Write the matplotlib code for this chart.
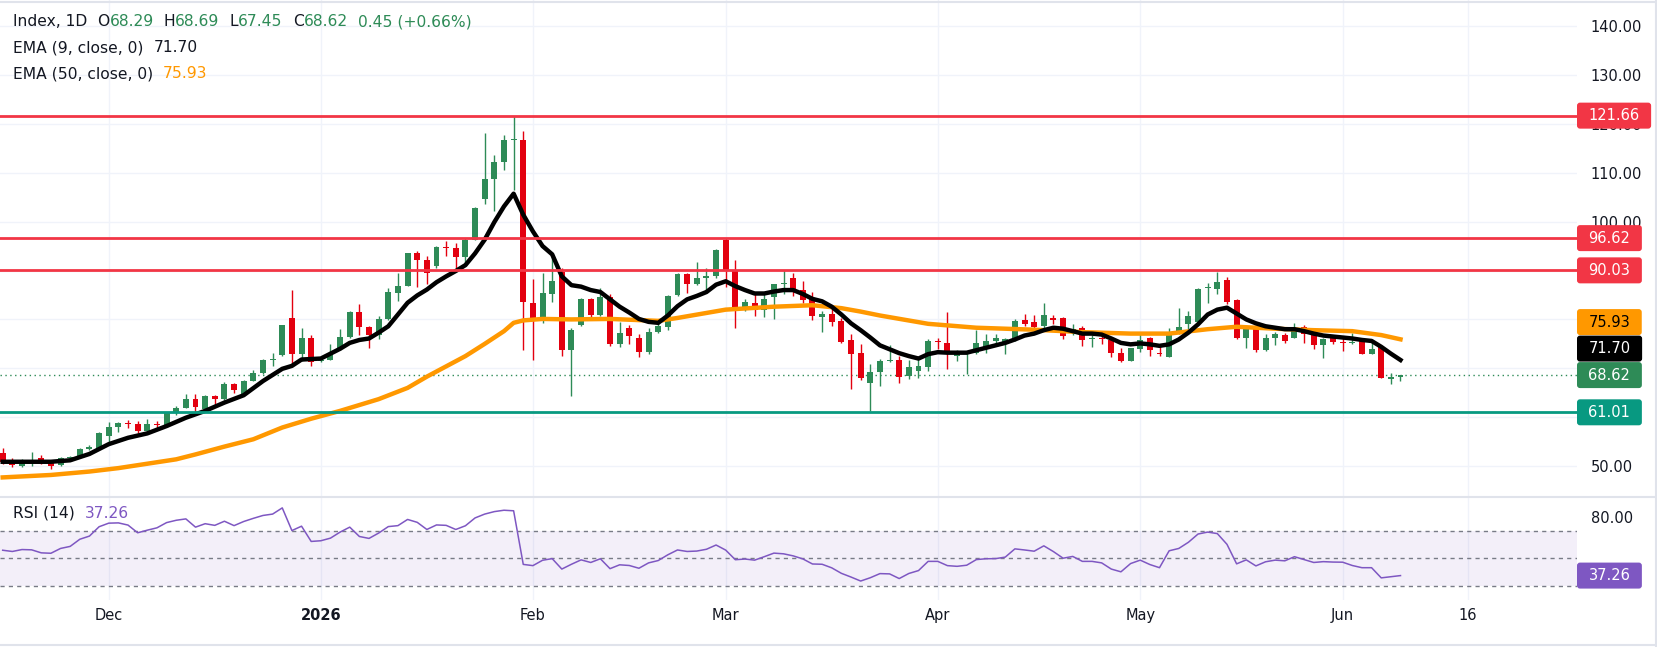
import numpy as np
import matplotlib
matplotlib.use('Agg')
import matplotlib.pyplot as plt
import matplotlib.transforms as mtransforms
from matplotlib.patches import FancyBboxPatch
from matplotlib.lines import Line2D

W, H = 1658, 647

# daily candles
opens = [52.7, 50.9, 50.1, 50.7, 51.6, 50.9, 50.2, 51.6, 51.8, 53.6,
         53.6, 56.2, 58.1, 58.8, 58.7, 57.2, 58.6, 58.1, 60.9, 61.9,
         63.8, 61.6, 64.3, 63.7, 66.7, 64.8, 67.5, 69.0, 71.8, 72.7,
         80.2, 72.9, 76.3, 71.4, 71.8, 73.9, 76.5, 81.6, 78.5, 76.9,
         80.0, 85.4, 86.9, 93.5, 92.2, 90.9, 94.9, 94.5, 92.8, 96.3,
         104.7, 108.7, 112.2, 116.6, 116.7, 83.3, 80.0, 85.2, 89.7, 73.7,
         78.8, 84.1, 81.0, 84.6, 74.9, 78.3, 76.1, 73.3, 77.5, 78.4,
         85.0, 89.2, 87.3, 88.4, 88.8, 96.3, 90.2, 82.5, 83.4, 82.0,
         84.6, 87.2, 88.5, 86.0, 84.1, 80.5, 81.2, 79.7, 75.8, 73.1,
         66.9, 69.3, 71.6, 71.8, 68.4, 69.5, 70.3, 75.6, 75.2, 72.5,
         73.2, 73.2, 74.2, 75.6, 75.1, 75.9, 79.8, 79.4, 78.6, 80.3,
         80.2, 77.4, 78.3, 75.9, 76.1, 75.7, 73.2, 71.5, 74.0, 76.1,
         73.1, 72.3, 77.4, 79.1, 79.5, 86.5, 86.3, 88.0, 83.9, 76.1,
         78.0, 73.7, 76.1, 76.9, 76.3, 78.5, 77.3, 74.8, 76.3, 75.4,
         75.1, 75.6, 73.0, 74.4, 67.9, 68.29]
highs = [53.8, 51.6, 51.4, 52.8, 52.2, 51.3, 51.8, 52.1, 53.7, 54.3,
         56.9, 59.1, 59.0, 59.5, 59.2, 59.6, 59.2, 61.1, 62.3, 64.7,
         64.8, 64.5, 64.5, 67.2, 67.1, 67.7, 69.7, 72.0, 73.1, 78.9,
         86.1, 78.3, 76.9, 72.0, 74.9, 78.1, 81.8, 83.1, 78.6, 80.8,
         86.5, 89.4, 93.6, 93.9, 92.9, 95.0, 96.0, 95.7, 96.7, 102.9,
         118.1, 113.7, 117.6, 121.66, 118.6, 88.2, 89.5, 93.6, 90.5, 78.3,
         84.4, 84.4, 86.5, 85.2, 79.5, 78.8, 77.1, 78.3, 79.7, 85.0,
         89.4, 89.4, 91.7, 90.5, 94.3, 96.7, 92.2, 84.2, 85.7, 85.2,
         87.3, 90.2, 89.5, 87.8, 85.7, 81.7, 82.7, 80.2, 77.1, 74.9,
         70.9, 72.0, 74.8, 72.5, 71.8, 72.0, 75.9, 76.2, 81.5, 73.7,
         73.5, 77.9, 77.1, 77.1, 76.2, 80.0, 81.2, 81.0, 83.3, 81.0,
         80.5, 79.0, 78.6, 76.9, 76.7, 76.2, 74.2, 74.2, 77.1, 76.5,
         74.9, 78.2, 82.4, 81.8, 86.5, 87.5, 89.7, 88.7, 84.2, 78.3,
         78.6, 77.0, 77.4, 77.3, 79.2, 78.9, 77.9, 76.3, 76.7, 76.5,
         77.3, 75.7, 75.1, 74.6, 69.0, 68.69]
lows = [50.5, 49.9, 49.9, 50.1, 50.4, 49.4, 50.1, 51.4, 51.7, 53.3,
        53.5, 54.8, 56.9, 57.9, 56.7, 57.0, 57.5, 58.0, 60.5, 61.8,
        61.1, 61.5, 62.5, 63.6, 65.0, 64.7, 67.4, 68.8, 70.5, 72.6,
        70.8, 71.5, 70.5, 71.2, 71.7, 73.7, 76.3, 76.9, 74.2, 75.9,
        79.9, 83.7, 86.8, 86.7, 87.2, 90.5, 92.9, 90.5, 91.2, 96.2,
        103.5, 102.1, 110.6, 106.5, 73.7, 71.7, 79.3, 83.6, 72.6, 64.4,
        78.7, 80.3, 80.7, 74.6, 74.4, 74.9, 72.4, 72.9, 77.3, 77.8,
        84.8, 85.3, 87.1, 85.4, 88.5, 86.7, 78.2, 81.7, 80.8, 80.5,
        80.0, 85.1, 84.8, 83.4, 79.9, 77.4, 78.6, 75.2, 65.7, 67.6,
        61.3, 66.4, 71.2, 66.9, 67.9, 68.0, 69.4, 74.0, 69.9, 71.5,
        68.8, 72.9, 73.1, 74.9, 73.0, 75.6, 78.6, 78.3, 78.3, 79.1,
        75.9, 76.9, 74.6, 74.4, 74.9, 72.4, 71.3, 71.4, 73.3, 72.5,
        72.5, 72.3, 77.0, 78.0, 79.3, 83.4, 85.1, 83.1, 75.9, 74.1,
        73.3, 73.5, 74.7, 75.2, 76.3, 75.2, 73.9, 72.2, 75.0, 73.5,
        74.9, 72.9, 72.9, 68.0, 66.7, 67.45]
closes = [50.8, 50.2, 51.2, 51.0, 50.6, 50.1, 51.6, 51.9, 53.6, 53.9,
          56.7, 58.1, 58.9, 58.6, 57.2, 58.7, 58.4, 60.9, 61.9, 63.8,
          62.0, 64.3, 63.7, 66.7, 65.6, 67.5, 69.1, 71.8, 72.0, 78.8,
          72.9, 76.3, 71.2, 71.8, 72.9, 76.5, 81.6, 78.5, 76.9, 80.0,
          85.6, 86.9, 93.5, 92.1, 89.5, 94.8, 94.7, 92.8, 96.3, 102.7,
          108.7, 112.2, 116.6, 116.8, 83.5, 80.0, 85.3, 87.8, 73.7, 77.8,
          84.1, 81.0, 84.6, 74.9, 77.3, 76.6, 73.3, 77.5, 78.7, 84.7,
          89.2, 87.3, 88.5, 88.9, 94.1, 90.1, 82.5, 83.5, 82.0, 84.1,
          87.3, 87.4, 85.8, 84.0, 80.7, 81.2, 79.5, 75.4, 73.0, 68.1,
          69.3, 71.6, 71.7, 68.2, 70.3, 70.5, 75.6, 75.4, 73.1, 73.0,
          73.3, 75.1, 75.6, 76.1, 75.9, 79.7, 79.1, 78.4, 81.0, 79.9,
          76.7, 78.1, 75.7, 76.1, 75.9, 73.2, 71.5, 74.1, 75.7, 73.7,
          72.9, 77.4, 78.5, 80.7, 86.3, 86.7, 87.7, 83.5, 76.1, 78.0,
          73.7, 76.1, 77.0, 75.6, 78.3, 77.1, 74.8, 76.0, 75.4, 75.2,
          75.2, 73.0, 74.0, 68.1, 68.17, 68.62]

ema9_idx = [0, 5, 7, 9, 11, 13, 15, 17, 19, 21, 23, 25, 27, 29, 30, 31, 33, 35, 36, 37,
            38, 39, 40, 41, 42, 43, 44, 45, 46, 47, 48, 49, 50, 51, 52, 53, 54, 55, 56, 57,
            58, 59, 60, 61, 62, 63, 64, 65, 66, 67, 68, 69, 70, 71, 72, 73, 74, 75, 76, 77,
            78, 79, 80, 81, 82, 83, 84, 85, 86, 87, 88, 89, 90, 91, 92, 93, 94, 95, 96, 97,
            98, 99, 100, 101, 102, 103, 104, 105, 106, 107, 108, 109, 110, 111, 112, 113, 114, 115, 116, 117,
            118, 119, 120, 121, 122, 123, 124, 125, 126, 127, 128, 129, 130, 131, 132, 133, 134, 135, 136, 137,
            138, 139, 140, 141, 142, 143, 144, 145]
ema9 = [50.9, 50.9, 51.2, 52.5, 54.5, 55.8, 56.7, 58.2, 59.9, 61.3, 63.0, 64.5, 67.4, 69.9, 70.5, 71.8, 72.0, 74.0, 75.2, 75.8,
        76.1, 77.3, 78.6, 81.0, 83.4, 84.9, 86.1, 87.6, 88.8, 89.9, 91.1, 93.5, 96.3, 99.9, 103.1, 105.7, 101.4, 98.0, 95.0, 93.3,
        88.8, 87.0, 86.7, 86.0, 85.6, 84.1, 82.6, 81.4, 80.1, 79.5, 79.3, 80.8, 82.7, 84.1, 84.8, 85.6, 87.1, 87.8, 86.8, 86.0,
        85.3, 85.3, 85.7, 86.0, 86.0, 85.2, 84.2, 83.7, 82.6, 81.0, 79.2, 77.8, 76.3, 74.7, 73.9, 73.1, 72.5, 72.0, 72.9, 73.3,
        73.2, 73.2, 73.2, 73.7, 74.2, 74.7, 75.2, 75.9, 76.7, 77.1, 77.8, 78.3, 78.1, 77.6, 77.1, 77.1, 76.9, 76.1, 75.2, 74.9,
        75.1, 74.9, 74.6, 74.9, 75.9, 77.3, 79.0, 81.0, 82.0, 82.4, 81.2, 80.0, 79.2, 78.6, 78.3, 78.0, 78.0, 77.6, 77.1, 76.7,
        76.5, 76.3, 76.1, 75.8, 75.6, 74.4, 73.0, 71.70]

ema50_idx = [0, 5, 9, 12, 15, 18, 20, 23, 26, 29, 32, 35, 39, 42, 44, 46, 48, 50, 52, 53,
             54, 56, 59, 63, 68, 70, 75, 80, 84, 87, 89, 91, 96, 101, 107, 112, 117, 121, 125, 128,
             132, 136, 140, 143, 145]
ema50 = [47.7, 48.2, 48.9, 49.6, 50.5, 51.4, 52.4, 54.0, 55.5, 57.9, 59.7, 61.3, 63.7, 66.0, 68.3, 70.4, 72.5, 75.0, 77.6, 79.3,
         79.8, 80.1, 80.0, 80.1, 79.7, 80.3, 82.0, 82.6, 82.9, 82.3, 81.6, 80.8, 79.1, 78.3, 77.9, 77.4, 77.1, 77.1, 78.0, 78.5,
         78.1, 77.8, 77.6, 76.8, 75.93]

rsi = [55.7, 54.8, 56.2, 56.0, 53.8, 53.5, 57.0, 58.5, 63.7, 66.0,
       72.8, 75.4, 75.6, 74.0, 68.4, 70.3, 72.0, 75.8, 77.5, 78.5,
       72.5, 75.0, 73.8, 76.8, 73.6, 76.6, 78.9, 81.0, 82.0, 86.5,
       70.0, 73.2, 62.1, 62.6, 64.5, 68.9, 72.5, 65.7, 64.3, 68.2,
       72.9, 73.6, 78.1, 76.0, 70.8, 74.1, 73.8, 70.8, 73.5, 79.2,
       82.0, 83.8, 84.8, 84.4, 45.4, 44.5, 48.4, 49.6, 42.0, 45.5,
       48.7, 46.8, 49.5, 42.3, 45.1, 44.6, 42.6, 46.5, 48.2, 52.4,
       55.9, 54.8, 55.1, 56.4, 59.5, 55.8, 48.8, 49.3, 48.5, 51.0,
       53.6, 53.1, 51.6, 49.4, 45.7, 45.5, 42.9, 38.9, 36.2, 33.3,
       35.7, 38.7, 38.5, 35.1, 38.8, 40.9, 47.6, 47.6, 44.5, 44.0,
       44.8, 48.9, 49.5, 49.6, 50.7, 56.7, 55.9, 55.0, 58.9, 54.7,
       49.9, 51.2, 47.6, 47.6, 46.5, 42.0, 40.0, 46.0, 48.5, 45.3,
       43.0, 55.3, 57.0, 61.5, 67.5, 68.9, 67.8, 60.0, 45.8, 48.7,
       44.3, 47.3, 48.5, 48.0, 51.0, 48.9, 46.8, 47.4, 47.1, 47.0,
       44.6, 43.0, 43.0, 35.6, 36.4, 37.26]

red_levels = [121.66, 96.62, 90.03]
green_level = 61.01
price_ticks = [50, 60, 70, 80, 90, 100, 110, 120, 130, 140]
hidden_ticks = [60, 70, 80, 90]   # sit under the price tags
month_pos = [11, 33, 55, 75, 97, 118, 139, 152]
month_lbl = ['Dec', '2026', 'Feb', 'Mar', 'Apr', 'May', 'Jun', '16']

UP = '#2e8b57'
DOWN = '#e3000f'
LVL_RED = '#f23645'
LVL_GREEN = '#089981'
ORANGE = '#ff9800'
PURPLE = '#7e57c2'
TXT = '#131722'
GRID = '#f0f3fa'
FS = 10.5
FS_HEAD = 11.2

plt.rcParams['font.family'] = ['DejaVu Sans']

fig = plt.figure(figsize=(W / 100, H / 100), dpi=100)
px = mtransforms.Affine2D().scale(1.0 / W, 1.0 / H) + fig.transFigure
renderer = fig.canvas.get_renderer()

xl = (-2.7 / 9.64, (1577 - 2.7) / 9.64)
ax = fig.add_axes([0, 1 - 496 / H, 1577 / W, 496 / H])
ax2 = fig.add_axes([0, 1 - 600 / H, 1577 / W, 102 / H])

# ---- price panel
o = np.array(opens)
c = np.array(closes)
x = np.arange(len(c))
cols = np.where(c >= o, UP, DOWN)
ax.vlines(x, lows, highs, colors=cols, lw=1, zorder=3)
ax.bar(x, np.maximum(np.abs(c - o), 0.2), bottom=np.minimum(o, c), width=0.62,
       color=cols, linewidth=0, zorder=4)
ax.plot(ema50_idx, ema50, color=ORANGE, lw=3.2, solid_joinstyle='round', zorder=5)
ax.plot(ema9_idx, ema9, color='black', lw=3.2, solid_joinstyle='round', zorder=6)
for lv in red_levels:
    ax.axhline(lv, color=LVL_RED, lw=2, zorder=7)
ax.axhline(green_level, color=LVL_GREEN, lw=2, zorder=7)
ax.axhline(closes[-1], color=UP, lw=1, ls=(0, (1, 2.5)), zorder=2)

for p in price_ticks:
    ax.axhline(p, color=GRID, lw=1, zorder=0)
for m in month_pos:
    ax.axvline(m, color=GRID, lw=1, zorder=0)
    ax2.axvline(m, color=GRID, lw=1, zorder=0)

ax.set_xlim(*xl)
ax.set_ylim(43.9, 145.3)
ax.yaxis.tick_right()
ax.set_yticks(price_ticks)
ax.set_yticklabels(['' if p in hidden_ticks else '%.2f' % p for p in price_ticks])
ax.tick_params(axis='y', length=0, pad=10, labelsize=FS, labelcolor=TXT)
ax.set_xticks([])

# ---- RSI panel
ax2.axhspan(30, 70, color=PURPLE, alpha=0.09, lw=0, zorder=1)
for lv in [70, 50, 30]:
    ax2.axhline(lv, color='#787b86', lw=1, ls=(0, (3, 3)), zorder=2)
ax2.plot(x, rsi, color=PURPLE, lw=1.1, zorder=3)
ax2.set_xlim(*xl)
ax2.set_ylim(19.5, 93.7)
ax2.yaxis.tick_right()
ax2.set_yticks([80])
ax2.set_yticklabels(['80.00'])
ax2.tick_params(axis='y', length=0, pad=10, labelsize=FS, labelcolor=TXT)
ax2.set_xticks(month_pos)
ax2.set_xticklabels(month_lbl)
ax2.tick_params(axis='x', length=0, pad=6, labelsize=FS, labelcolor=TXT)
ax2.get_xticklabels()[1].set_fontweight('bold')

for a in (ax, ax2):
    for s in a.spines.values():
        s.set_visible(False)


def ypix(a, v):
    return a.transData.transform((0, v))[1] * H / fig.bbox.height


def tag(yb, txt, fc, tc):
    t = fig.text(0, 0, txt, transform=px, fontsize=FS, color=tc,
                 ha='center', va='center', zorder=11)
    w = t.get_window_extent(renderer).width * W / fig.bbox.width + 23
    fig.add_artist(FancyBboxPatch((1577, yb - 13), w, 26, boxstyle='round,pad=0,rounding_size=3',
                                  transform=px, fc=fc, ec='none', zorder=10))
    t.set_position((1577 + w / 2, yb))


tags = [(121.66, LVL_RED, 'white'), (96.62, LVL_RED, 'white'), (90.03, LVL_RED, 'white'),
        (ema50[-1], ORANGE, 'black'), (ema9[-1], 'black', 'white'),
        (closes[-1], UP, 'white'), (green_level, LVL_GREEN, 'white')]
tags.sort(key=lambda t: t[0])
prev = -1e9
for v, fc, tc in tags:
    yb = max(ypix(ax, v), prev + 26.5)
    prev = yb
    tag(yb, '%.2f' % v, fc, tc)
tag(ypix(ax2, rsi[-1]), '%.2f' % rsi[-1], PURPLE, 'white')


def pieces(x0, ytop, parts):
    xx = x0
    for s, col in parts:
        if col is None:
            xx += s
            continue
        t = fig.text(xx, H - ytop, s, transform=px, color=col, fontsize=FS_HEAD, ha='left', va='center')
        xx += t.get_window_extent(renderer).width * W / fig.bbox.width


chg = closes[-1] - closes[-2]
g = 10
pieces(13, 22, [('Index, 1D', TXT), (g, None), ('O', TXT), ('%.2f' % opens[-1], UP), (g, None),
                ('H', TXT), ('%.2f' % highs[-1], UP), (g, None),
                ('L', TXT), ('%.2f' % lows[-1], UP), (g, None),
                ('C', TXT), ('%.2f' % closes[-1], UP), (g, None),
                ('%.2f (+%.2f%%)' % (chg, chg / closes[-2] * 100), UP)])
pieces(13, 48, [('EMA (9, close, 0)', TXT), (g, None), ('%.2f' % ema9[-1], TXT)])
pieces(13, 74, [('EMA (50, close, 0)', TXT), (g, None), ('%.2f' % ema50[-1], ORANGE)])
pieces(13, 513, [('RSI (14)', TXT), (g, None), ('%.2f' % rsi[-1], PURPLE)])

for xs, ys in [([0, 1656], [H - 497, H - 497]), ([1656, 1656], [0, H]),
               ([0, 1656], [2, 2]), ([0, 1656], [H - 2, H - 2])]:
    fig.add_artist(Line2D(xs, ys, transform=px, color='#e0e3eb', lw=1.5))

fig.savefig('out.png', dpi=100)
